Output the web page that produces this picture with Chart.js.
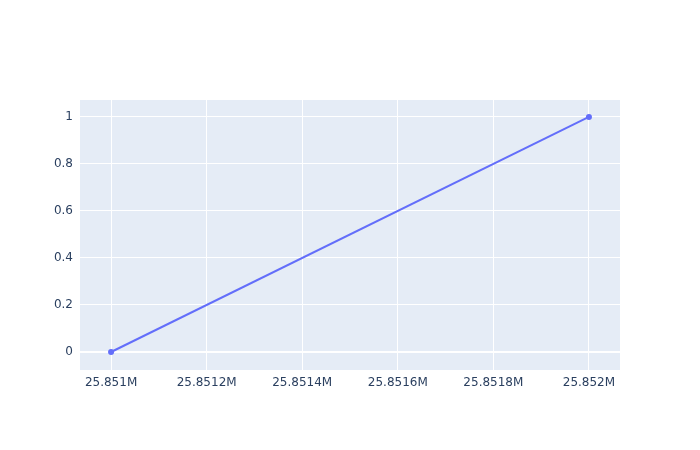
<!DOCTYPE html>
<html>
<head>
<meta charset="utf-8">
<script src="https://cdn.jsdelivr.net/npm/chart.js@4"></script>
<style>
  html, body { margin: 0; padding: 0; background: #fff; }
  #wrap { width: 700px; height: 450px; }
</style>
</head>
<body>
<div id="wrap"><canvas id="myChart" width="700" height="450"></canvas></div>
<script>
const xValues = [25851000, 25852000];
const yValues = [0, 1];
const xTicks = [25851000, 25851200, 25851400, 25851600, 25851800, 25852000];
const yTicks = [0, 0.2, 0.4, 0.6, 0.8, 1];

const lineColor = '#636efa';
const textColor = '#2a3f5f';
const plotBg = '#e5ecf6';

Chart.defaults.font.family = '"DejaVu Sans", Verdana, sans-serif';
Chart.defaults.font.size = 12;
Chart.defaults.color = textColor;

// paint the plot area like plotly does
const plotBackground = {
  id: 'plotBackground',
  beforeDraw(chart) {
    const { ctx, chartArea } = chart;
    ctx.save();
    ctx.fillStyle = plotBg;
    ctx.fillRect(chartArea.left, chartArea.top, chartArea.right - chartArea.left, chartArea.bottom - chartArea.top);
    ctx.restore();
  }
};

function fmtX(v) {
  return parseFloat((v / 1e6).toFixed(4)) + 'M';
}

const ctx = document.getElementById('myChart').getContext('2d');
new Chart(ctx, {
  type: 'line',
  data: {
    datasets: [{
      data: xValues.map((x, i) => ({ x: x, y: yValues[i] })),
      borderColor: lineColor,
      backgroundColor: lineColor,
      borderWidth: 2,
      pointRadius: 3,
      pointBorderWidth: 0,
      pointHoverRadius: 3,
      tension: 0
    }]
  },
  options: {
    responsive: false,
    animation: false,
    layout: { padding: { top: 100, right: 80, left: 0, bottom: 0 } },
    scales: {
      x: {
        type: 'linear',
        min: 25850935,
        max: 25852065,
        afterBuildTicks: (scale) => { scale.ticks = xTicks.map(v => ({ value: v })); },
        afterFit: (scale) => { scale.height = 80; },
        grid: { color: '#ffffff', lineWidth: 1, drawTicks: false },
        border: { display: false },
        ticks: { padding: 6, maxRotation: 0, callback: (v) => fmtX(v) }
      },
      y: {
        type: 'linear',
        min: -0.0766,
        max: 1.072,
        afterBuildTicks: (scale) => { scale.ticks = yTicks.map(v => ({ value: v })); },
        afterFit: (scale) => { scale.width = 80; },
        grid: {
          color: '#ffffff',
          lineWidth: (c) => (c.tick && c.tick.value === 0 ? 2 : 1),
          drawTicks: false
        },
        border: { display: false },
        ticks: { padding: 7, callback: (v) => String(parseFloat(v.toFixed(1))) }
      }
    },
    plugins: {
      legend: { display: false },
      tooltip: { enabled: false }
    }
  },
  plugins: [plotBackground]
});
</script>
</body>
</html>
